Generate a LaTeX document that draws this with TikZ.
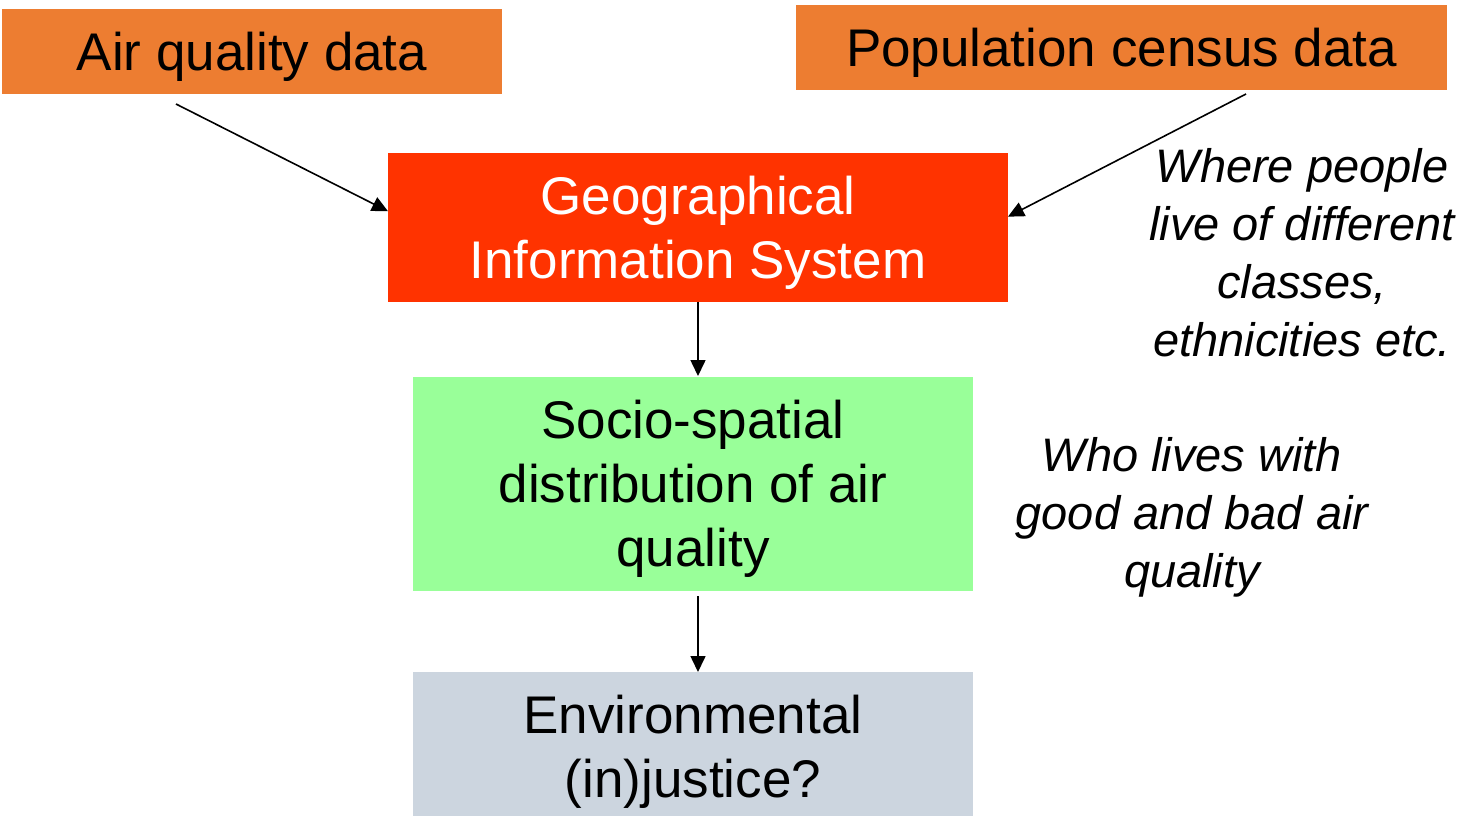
\documentclass[tikz,border=0pt]{standalone}
\usepackage{fontspec}
\setmainfont{Liberation Sans}
\usetikzlibrary{arrows.meta}
\definecolor{srcorange}{HTML}{ED7D31}
\definecolor{gisred}{HTML}{FF3300}
\definecolor{distgreen}{HTML}{99FF99}
\definecolor{outgray}{HTML}{CCD5DF}
\begin{document}
\begin{tikzpicture}[x=1pt,y=-1pt,
  box/.style={rectangle, inner sep=0pt, outer sep=0pt},
  boxtext/.style={inner sep=0pt, align=center, yshift=-5pt,
    font=\fontsize{53}{64}\selectfont},
  note/.style={inner sep=0pt, align=center,
    font=\fontsize{47}{58}\selectfont\itshape},
  link/.style={line width=1.6pt, -{Triangle[length=16pt,width=15pt]}}]
\useasboundingbox (0,0) rectangle (1467,816);

% data sources
\node[box, fill=srcorange, minimum width=500pt, minimum height=85pt,
  label={[boxtext]center:Air quality data}] (air) at (252,51.5) {};
\node[box, fill=srcorange, minimum width=651pt, minimum height=85pt,
  label={[boxtext]center:Population census data}] (census) at (1121.5,47.5) {};

% processing chain
\node[box, fill=gisred, minimum width=620pt, minimum height=149pt,
  label={[boxtext, text=white]center:Geographical\\Information System}] (gis) at (698,227.5) {};
\node[box, fill=distgreen, minimum width=560pt, minimum height=214pt,
  label={[boxtext]center:Socio-spatial\\distribution of air\\quality}] (dist) at (693,484) {};
\node[box, fill=outgray, minimum width=560pt, minimum height=152pt,
  label={[boxtext, yshift=1pt]center:Environmental\\(in)justice?}] (just) at (693,748) {};

% side notes
\node[note] (where) at (1302,253) {Where people\\live of different\\classes,\\ethnicities etc.};
\node[note] (who) at (1192,517.5) {Who lives with\\good and bad air\\quality};

% arrow tails
\coordinate (airtail) at (176,104);
\coordinate (censustail) at (1246,94);

\draw[link] (airtail) -- (gis.177.5);
\draw[link] (censustail) -- (gis.2.5);
\draw[link] (gis.south -| 698,0) -- (698,376);
\draw[link] (698,596) -- (just.north -| 698,0);
\end{tikzpicture}
\end{document}
